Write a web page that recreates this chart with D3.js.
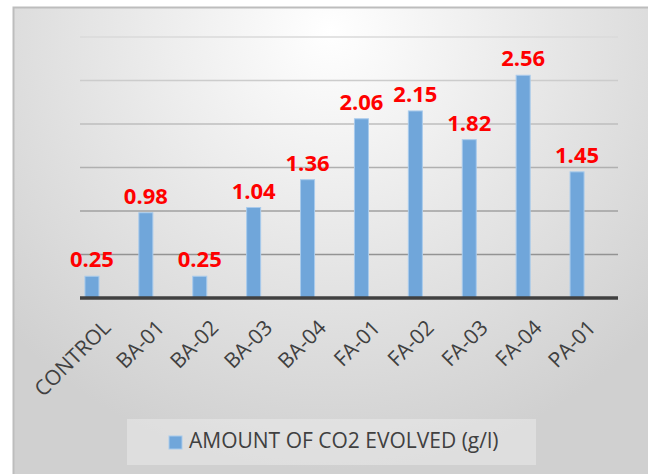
<!DOCTYPE html>
<html lang="en">
<head>
    <meta charset="UTF-8">
    <script type="text/javascript" src="https://cdn.jsdelivr.net/npm/d3@7/dist/d3.min.js"></script>
    <title>CO2 evolved</title>
    <style>
        body { margin: 0; background: #fff; }
        text { font-family: "Open Sans", sans-serif; }
    </style>
</head>
<body>
</body>
<script>
    // data
    var categories = ["CONTROL", "BA-01", "BA-02", "BA-03", "BA-04", "FA-01", "FA-02", "FA-03", "FA-04", "PA-01"];
    var co2Values = [0.25, 0.98, 0.25, 1.04, 1.36, 2.06, 2.15, 1.82, 2.56, 1.45];
    var yTicks = [0, 0.5, 1, 1.5, 2, 2.5, 3];
    var seriesName = "AMOUNT OF CO2 EVOLVED (g/l)";

    var width = 648, height = 474;
    var barColor = "#70a6da";

    var svg = d3.select("body")
        .append("svg")
        .attr("width", width)
        .attr("height", height)

    // background gradient of the chart area
    var defs = svg.append("defs")
    var grad = defs.append("radialGradient")
        .attr("id", "bg")
        .attr("gradientUnits", "userSpaceOnUse")
        .attr("cx", 330).attr("cy", 30)
        .attr("r", 440)
    grad.append("stop").attr("offset", "0%").attr("stop-color", "#ffffff")
    grad.append("stop").attr("offset", "50%").attr("stop-color", "#e7e7e7")
    grad.append("stop").attr("offset", "100%").attr("stop-color", "#d0d0d0")

    svg.append("rect")
        .attr("x", 13).attr("y", 7)
        .attr("width", width - 13).attr("height", height - 7)
        .attr("fill", "url(#bg)")
    svg.append("path")
        .attr("d", "M13.5," + height + "V7.5H" + width)
        .attr("fill", "none")
        .attr("stroke", "#bdbdbd")
        .attr("stroke-width", 2)

    var x = d3.scaleBand()
        .domain(categories)
        .range([65, 604])
        .paddingInner(0.74)
        .paddingOuter(0.37);

    var y = d3.scaleLinear()
        .domain([0, 3])
        .range([298, 37]);

    var gridLeft = 80, gridRight = 618;
    var gridColor = d3.scaleLinear()
        .domain([37, 298])
        .range(["#dadada", "#858585"]);

    // gridlines
    svg.append("g")
        .selectAll("line")
        .data(yTicks.filter(d => d > 0))
        .enter()
        .append("line")
        .attr("x1", gridLeft).attr("x2", gridRight)
        .attr("y1", d => y(d)).attr("y2", d => y(d))
        .attr("stroke", d => gridColor(y(d)))
        .attr("stroke-width", 1.3)

    // bars
    svg.append("g")
        .selectAll("rect")
        .data(co2Values)
        .enter()
        .append("rect")
        .attr("x", (d, i) => x(categories[i]))
        .attr("y", d => y(d))
        .attr("width", x.bandwidth())
        .attr("height", d => y(0) - y(d))
        .attr("fill", barColor)
        .attr("stroke", "#a9cbec")
        .attr("stroke-width", 1)

    // baseline
    svg.append("line")
        .attr("x1", gridLeft).attr("x2", gridRight)
        .attr("y1", y(0)).attr("y2", y(0))
        .attr("stroke", "#404040")
        .attr("stroke-width", 3.5)

    // value labels
    svg.append("g")
        .selectAll("text")
        .data(co2Values)
        .enter()
        .append("text")
        .attr("x", (d, i) => x(categories[i]) + x.bandwidth() / 2)
        .attr("y", d => y(d) - 9)
        .attr("text-anchor", "middle")
        .attr("font-size", 22)
        .attr("font-weight", "bold")
        .attr("fill", "#ff0000")
        .text(d => d.toFixed(2))

    // category labels, rotated
    svg.append("g")
        .selectAll("text")
        .data(categories)
        .enter()
        .append("text")
        .attr("transform", d => "translate(" + (x(d) + x.bandwidth() / 2 + 20) + ",329) rotate(-45)")
        .attr("text-anchor", "end")
        .attr("font-size", 21)
        .attr("fill", "#404040")
        .text(d => d)

    // legend
    var legend = svg.append("g")
    legend.append("rect")
        .attr("x", 127).attr("y", 419)
        .attr("width", 409).attr("height", 46)
        .attr("fill", "#ffffff")
        .attr("fill-opacity", 0.3)
    legend.append("rect")
        .attr("x", 169).attr("y", 436)
        .attr("width", 13).attr("height", 13)
        .attr("fill", barColor)
        .attr("stroke", "#a9cbec")
    legend.append("text")
        .attr("x", 189).attr("y", 448)
        .attr("font-size", 21)
        .attr("fill", "#404040")
        .text(seriesName)
</script>
</html>
